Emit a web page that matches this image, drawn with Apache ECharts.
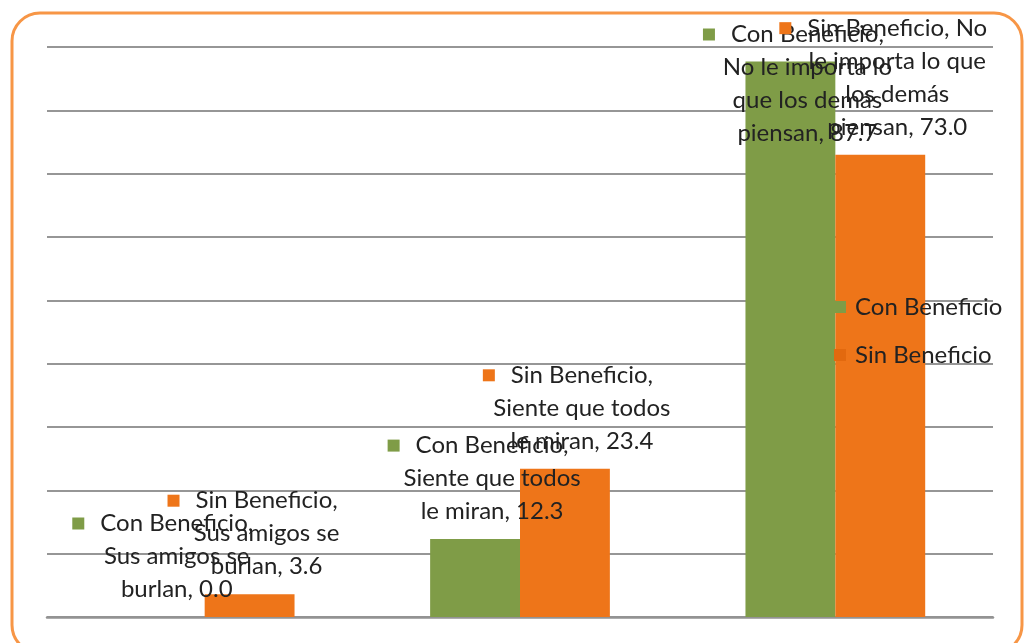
<!DOCTYPE html>
<html><head><meta charset="utf-8">
<script src="https://cdn.jsdelivr.net/npm/echarts@6/dist/echarts.min.js"></script>
<style>html,body{margin:0;padding:0;background:#fff}#c{width:1024px;height:643px}#m{position:absolute;left:-9999px;top:0;white-space:pre;visibility:hidden}</style>
</head><body><div id="c"></div><span id="m"></span>
<script>
// ---- data ----
const categories = ['Sus amigos se burlan', 'Siente que todos le miran', 'No le importa lo que los demás piensan'];
const seriesNames = ['Con Beneficio', 'Sin Beneficio'];
const conBeneficio = [0.0, 12.3, 87.7];
const sinBeneficio = [3.6, 23.4, 73.0];
const yMin = 0, yMax = 90, yStep = 10;

// ---- style ----
const colors = ['#7F9C47', '#EE7519'];
const FONT = 'Lato';
const FS = 24;
const WRAP = 182;
const TOPMIN = 18;
const LABEL_DX = 17;
const LABEL_GAP = 11;

const meas = document.getElementById('m');
meas.style.fontFamily = FONT;
meas.style.fontSize = FS + 'px';
function textW(t) { meas.textContent = t; return meas.getBoundingClientRect().width; }
function wrap(text) {
  const words = text.split(' ');
  const lines = [];
  let cur = '';
  for (const w of words) {
    const t = cur ? cur + ' ' + w : w;
    if (!cur || textW(t) <= WRAP) cur = t;
    else { lines.push(cur); cur = w; }
  }
  if (cur) lines.push(cur);
  return lines;
}

function makeLabel(color) {
  return {
    show: true,
    position: 'top',
    distance: LABEL_GAP,
    align: 'center',
    formatter: function (p) {
      const lines = wrap(p.seriesName + ', ' + p.name + ', ' + Number(p.value).toFixed(1));
      let s = '{sq|}{g|}{t|' + lines[0] + '}{r|}';
      for (let i = 1; i < lines.length; i++) s += '\n{t|' + lines[i] + '}';
      return s;
    },
    rich: {
      sq: { width: 12, height: 12, backgroundColor: color, align: 'center' },
      g: { width: 16, align: 'center' },
      r: { width: 28, align: 'center' },
      t: { fontSize: FS, fontFamily: FONT, color: '#222', lineHeight: 33, align: 'center' }
    }
  };
}
function layout(p) {
  const cx = p.rect.x + p.rect.width / 2 + LABEL_DX;
  const bottom = p.rect.y - LABEL_GAP;
  if (bottom - p.labelRect.height < TOPMIN) {
    return { x: cx, y: TOPMIN, align: 'center', verticalAlign: 'top' };
  }
  return { x: cx, y: bottom, align: 'center', verticalAlign: 'bottom' };
}

const chart = echarts.init(document.getElementById('c'), null, { renderer: 'canvas' });
chart.setOption({
  animation: false,
  backgroundColor: '#fff',
  graphic: [{
    type: 'rect', silent: true, z: -10,
    shape: { x: 12, y: 13, width: 1010, height: 640, r: 28 },
    style: { fill: 'none', stroke: '#F79646', lineWidth: 3 }
  }],
  grid: { left: 47, right: 31, top: 47, bottom: 26 },
  legend: {
    orient: 'vertical', left: 834, top: 295, padding: 0,
    itemWidth: 12, itemHeight: 12, itemGap: 24, icon: 'rect',
    data: [
      { name: seriesNames[0] },
      { name: seriesNames[1], itemStyle: { color: '#E2690F' } }
    ],
    textStyle: { fontSize: FS, fontFamily: FONT, color: '#222', lineHeight: 24, padding: [0, 0, 0, 4] }
  },
  xAxis: {
    type: 'category', data: categories,
    axisLabel: { show: false }, axisTick: { show: false },
    axisLine: { lineStyle: { color: '#939393', width: 2.5 } }
  },
  yAxis: {
    type: 'value', min: yMin, max: yMax, interval: yStep,
    axisLabel: { show: false }, axisLine: { show: false }, axisTick: { show: false },
    splitLine: { lineStyle: { color: '#969696', width: 2 } }
  },
  series: [
    {
      name: seriesNames[0], type: 'bar', data: conBeneficio,
      barGap: '0%', barCategoryGap: '43%',
      itemStyle: { color: colors[0] },
      label: makeLabel(colors[0]),
      labelLayout: layout
    },
    {
      name: seriesNames[1], type: 'bar', data: sinBeneficio,
      barGap: '0%', barCategoryGap: '43%',
      itemStyle: { color: colors[1] },
      label: makeLabel(colors[1]),
      labelLayout: layout
    }
  ]
});
</script>
</body></html>
